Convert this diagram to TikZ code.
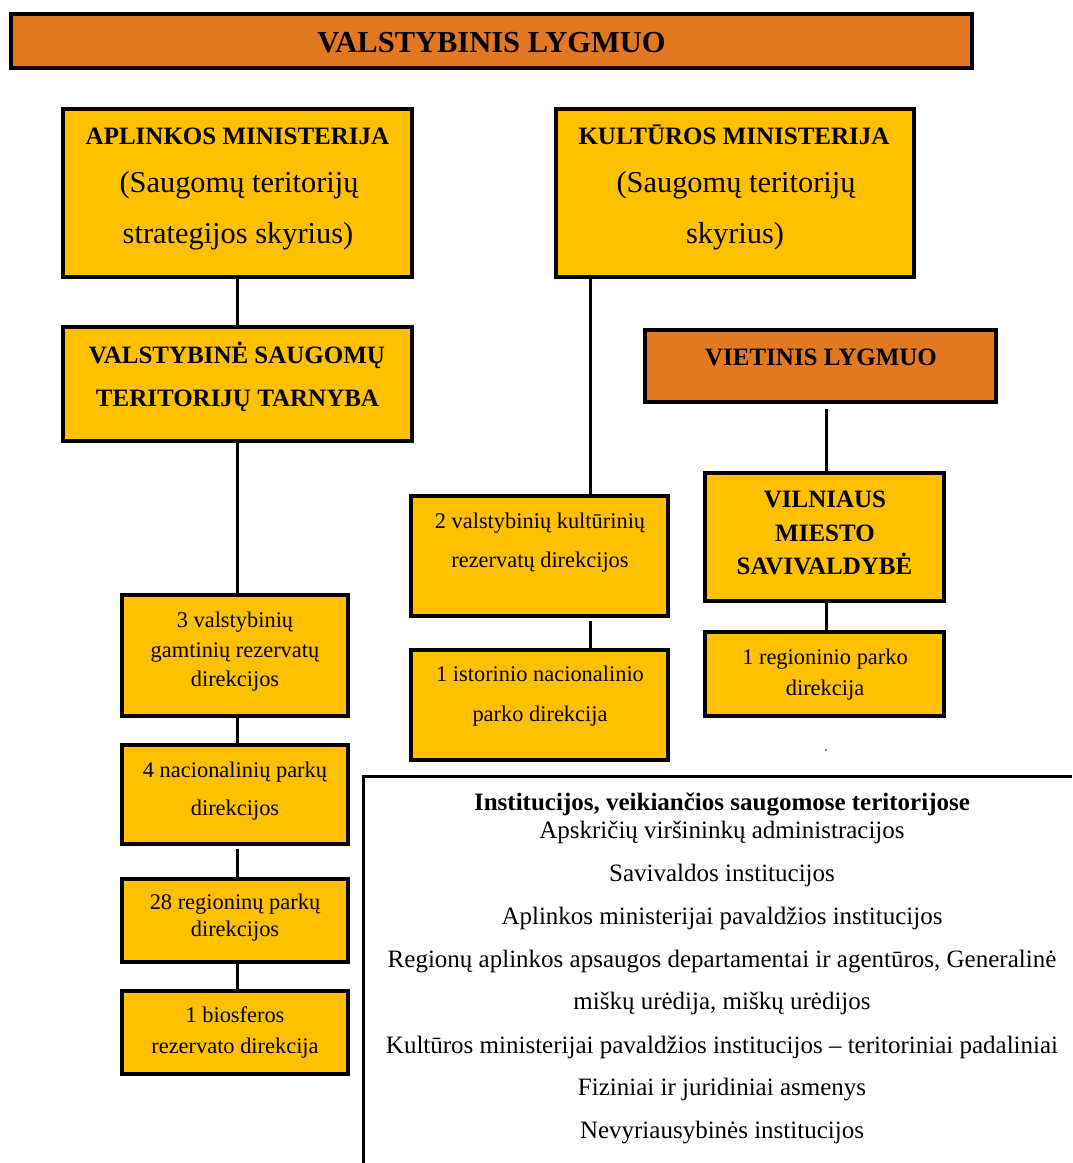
\documentclass[tikz,border=0pt]{standalone}
\usepackage{fontspec}
\setmainfont{Liberation Serif}
\definecolor{orng}{HTML}{E27820}
\definecolor{yel}{HTML}{FFC000}
\tikzset{
  box/.style={draw=black, line width=3.5pt, inner sep=0pt, outer sep=0pt},
  ybox/.style={box, fill=yel},
  obox/.style={box, fill=orng},
  conn/.style={draw=black, line width=3pt},
  txt/.style={inner sep=0pt, anchor=base},
  ttl/.style={txt, font=\bfseries\fontsize{30.5}{36}\selectfont},
  hb/.style={txt, font=\bfseries\fontsize{25}{30}\selectfont},
  hn/.style={txt, font=\fontsize{30.4}{36}\selectfont},
  sm/.style={txt, font=\fontsize{22.4}{26}\selectfont},
  lst/.style={txt, font=\fontsize{25}{29}\selectfont},
  lsb/.style={txt, font=\bfseries\fontsize{25}{29}\selectfont}
}
\begin{document}
\begin{tikzpicture}[x=1pt,y=-1pt]
\useasboundingbox (0,0) rectangle (1072,1163);

% boxes
\node[obox, minimum width=961pt, minimum height=54pt] (banner) at (491.5,41) {};
\node[ybox, minimum width=349pt, minimum height=168pt] (apl) at (237.5,193) {};
\node[ybox, minimum width=358pt, minimum height=168pt] (kult) at (735,193) {};
\node[ybox, minimum width=349pt, minimum height=114pt] (vstt) at (237.5,384) {};
\node[obox, minimum width=351pt, minimum height=72pt] (viet) at (820.5,366) {};
\node[ybox, minimum width=239pt, minimum height=128pt] (viln) at (824.5,537) {};
\node[ybox, minimum width=239pt, minimum height=84pt] (rp1) at (824.5,674) {};
\node[ybox, minimum width=257pt, minimum height=120pt] (kr2) at (539.5,556) {};
\node[ybox, minimum width=257pt, minimum height=110pt] (ist) at (539.5,705) {};
\node[ybox, minimum width=226pt, minimum height=121pt] (gr3) at (235,655.5) {};
\node[ybox, minimum width=226pt, minimum height=99pt] (np4) at (235,794.5) {};
\node[ybox, minimum width=226pt, minimum height=83pt] (rp28) at (235,920.5) {};
\node[ybox, minimum width=226pt, minimum height=83pt] (bio) at (235,1032.5) {};

% connector x positions
\coordinate (lx) at (237,0);
\coordinate (kx) at (590,0);
\coordinate (vx) at (826,0);

\draw[conn] (apl.south -| lx) -- (vstt.north -| lx);
\draw[conn] (vstt.south -| lx) -- (gr3.north -| lx);
\draw[conn] (gr3.south -| lx) -- (np4.north -| lx);
\draw[conn, shorten <=5pt] (np4.south -| lx) -- (rp28.north -| lx);
\draw[conn] (rp28.south -| lx) -- (bio.north -| lx);
\draw[conn] (kult.south -| kx) -- (kr2.north -| kx);
\draw[conn, shorten <=5pt] (kr2.south -| kx) -- (ist.north -| kx);
\draw[conn, shorten <=7pt] (viet.south -| vx) -- (viln.north -| vx);
\draw[conn] (viln.south -| vx) -- (rp1.north -| vx);

% tiny dot
\fill (826,750) circle (0.9pt) coordinate (dot);

% open box at bottom right
\coordinate (ob1) at (363,1163);
\coordinate (ob2) at (363,776);
\coordinate (ob3) at (1072,776);
\draw[line width=3pt] (ob1) -- (ob2) -- (ob3);

% texts
\node[ttl] (t-banner) at (491.5,52) {VALSTYBINIS LYGMUO};

\node[hb] (t-apl1) at (237.5,144) {APLINKOS MINISTERIJA};
\node[hn] (t-apl2) at (239,192) {(Saugomų teritorijų};
\node[hn] (t-apl3) at (238,243) {strategijos skyrius)};

\node[hb] (t-k1) at (734,144) {KULTŪROS MINISTERIJA};
\node[hn] (t-k2) at (736,192) {(Saugomų teritorijų};
\node[hn] (t-k3) at (735,243) {skyrius)};

\node[hb] (t-v1) at (237,363) {VALSTYBINĖ SAUGOMŲ};
\node[hb] (t-v2) at (237.5,406) {TERITORIJŲ TARNYBA};

\node[hb] (t-viet) at (821,365) {VIETINIS LYGMUO};

\node[hb] (t-vl1) at (825,507) {VILNIAUS};
\node[hb] (t-vl2) at (825,541) {MIESTO};
\node[hb] (t-vl3) at (824.5,574) {SAVIVALDYBĖ};

\node[sm] (t-r1) at (825,664) {1 regioninio parko};
\node[sm] (t-r2) at (825,695) {direkcija};

\node[sm] (t-kr1) at (540,528) {2 valstybinių kultūrinių};
\node[sm] (t-kr2) at (540,567) {rezervatų direkcijos};

\node[sm] (t-i1) at (540,681) {1 istorinio nacionalinio};
\node[sm] (t-i2) at (540,721) {parko direkcija};

\node[sm] (t-g1) at (235,627) {3 valstybinių};
\node[sm] (t-g2) at (235,657) {gamtinių rezervatų};
\node[sm] (t-g3) at (235,686) {direkcijos};

\node[sm] (t-n1) at (235,777) {4 nacionalinių parkų};
\node[sm] (t-n2) at (235,815) {direkcijos};

\node[sm] (t-p1) at (235,909) {28 regioninų parkų};
\node[sm] (t-p2) at (235,936) {direkcijos};

\node[sm] (t-b1) at (235,1022) {1 biosferos};
\node[sm] (t-b2) at (235,1053) {rezervato direkcija};

\node[lsb] (t-l0) at (722,810) {Institucijos, veikiančios saugomose teritorijose};
\node[lst] (t-l1) at (722,838) {Apskričių viršininkų administracijos};
\node[lst] (t-l2) at (722,881) {Savivaldos institucijos};
\node[lst] (t-l3) at (722,924) {Aplinkos ministerijai pavaldžios institucijos};
\node[lst] (t-l4) at (722,967) {Regionų aplinkos apsaugos departamentai ir agentūros, Generalinė};
\node[lst] (t-l5) at (722,1009) {miškų urėdija, miškų urėdijos};
\node[lst] (t-l6) at (722,1053) {Kultūros ministerijai pavaldžios institucijos -- teritoriniai padaliniai};
\node[lst] (t-l7) at (722,1095) {Fiziniai ir juridiniai asmenys};
\node[lst] (t-l8) at (722,1138) {Nevyriausybinės institucijos};
\end{tikzpicture}
\end{document}
